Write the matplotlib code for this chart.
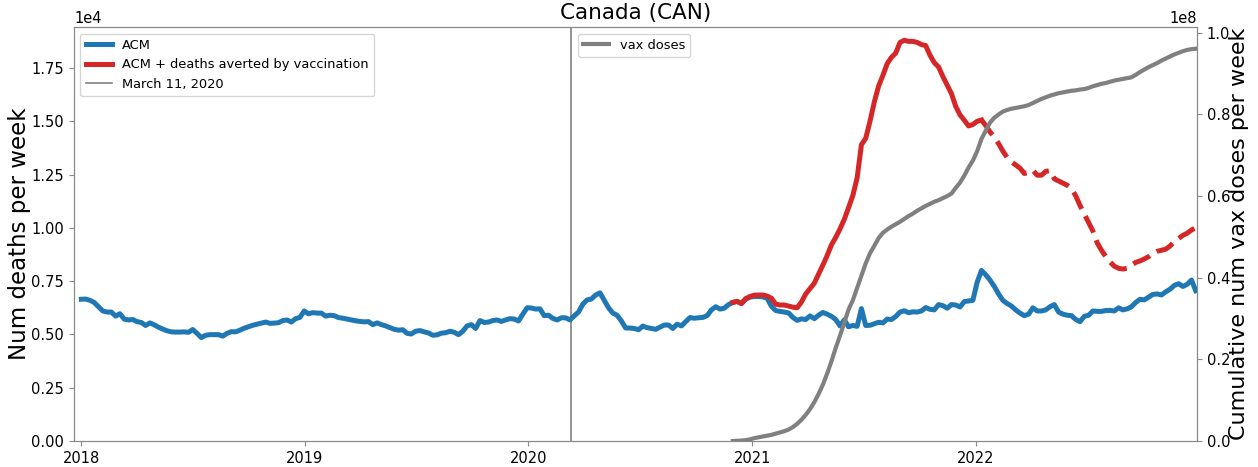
#Weekly all-cause mortality vs vaccine doses, Canada
import matplotlib
matplotlib.use("Agg")
import matplotlib.pyplot as plt
import matplotlib.dates as mdates
import numpy as np
import pandas as pd

# weekly dates (week starting Monday), 2018-01-01 .. 2022-12-26
weeks = pd.date_range("2018-01-01", periods=261, freq="7D")

# all cause mortality, deaths per week
acm = [
    6650, 6660, 6600, 6500, 6300, 6100, 6050, 6050, 5860, 5970,
    5720, 5680, 5700, 5600, 5560, 5420, 5540, 5450, 5340, 5250,
    5170, 5120, 5110, 5110, 5120, 5100, 5230, 5050, 4850, 4960,
    4990, 4990, 4990, 4920, 5050, 5130, 5120, 5200, 5290, 5360,
    5430, 5480, 5530, 5580, 5520, 5530, 5550, 5650, 5680, 5580,
    5740, 5800, 6100, 5970, 6020, 6000,
    6000, 5860, 5900, 5880, 5790, 5760, 5720, 5680, 5640, 5610,
    5590, 5600, 5460, 5540, 5460, 5400, 5320, 5240, 5200, 5220,
    5050, 5020, 5150, 5180, 5120, 5070, 4960, 4980, 5060, 5080,
    5150, 5100, 4990, 5150, 5400, 5460, 5280, 5650, 5560, 5580,
    5650, 5680, 5610, 5680, 5740, 5720, 5630, 5950, 6250, 6240,
    6190, 6200, 5880, 5900, 5750, 5680, 5780, 5780, 5680, 5870,
    6050, 6420, 6620, 6660, 6850, 6950, 6600, 6250, 6000, 5900,
    5630, 5300, 5300, 5280, 5220, 5390, 5320, 5280, 5240, 5340,
    5440, 5440, 5280, 5480, 5400, 5600, 5790, 5760, 5780, 5800,
    5880, 6150, 6300, 6190, 6230, 6400, 6500, 6550, 6450, 6650,
    6750, 6780, 6780, 6760, 6700, 6320, 6120, 6080, 6050, 6010,
    5800, 5660, 5730, 5700, 5870, 5740, 5900, 6030, 5950,
    5850, 5700, 5400, 5680, 5360, 5420, 5380, 6210, 5420, 5430,
    5500, 5570, 5540, 5720, 5700, 5840, 6050, 6110, 6020, 6060,
    6050, 6100, 6260, 6180, 6150, 6400, 6350, 6230, 6400, 6380,
    6290, 6540, 6570, 6600, 7450, 8000, 7800, 7550, 7250, 6900,
    6600, 6450, 6330, 6150, 6000, 5880, 5950, 6250, 6100, 6100,
    6150, 6300, 6400, 6050, 5950, 5900, 5880, 5700,
    5600, 5850, 5900, 6100, 6080, 6080, 6120, 6130, 6100, 6250,
    6150, 6200, 6300, 6500, 6650, 6620, 6750, 6880, 6900, 6850,
    7000, 7120, 7300, 7380, 7250, 7350, 7550, 7050,
]

# ACM + deaths averted by vaccination, from week 152 (2020-11-30)
averted_start = 152
acm_averted = [
    6500, 6550, 6450, 6680, 6780, 6840, 6850, 6850, 6800, 6700,
    6420, 6380, 6380, 6330, 6280, 6250, 6520, 6900, 7150, 7400,
    7830, 8250, 8700, 9200, 9550, 9950, 10400, 10950, 11520, 12350,
    13900, 14200, 15000, 15900, 16650, 17150, 17700, 18000, 18200, 18700,
    18800, 18750, 18750, 18700, 18600, 18550, 18100, 17750, 17550, 17100,
    16700, 16300, 15700, 15300, 15050, 14780, 14850, 15000, 15060, 14800,
    14500, 14250, 13950, 13600, 13300, 13100, 12950, 12800, 12550, 12600,
    12700, 12470, 12470, 12650, 12680, 12300, 12200, 12100, 12000, 11850,
    11500, 11050, 10650, 10250, 9850, 9300, 8950, 8650, 8400, 8200,
    8100, 8070, 8100, 8250, 8380, 8450, 8540, 8650, 8800, 8900,
    8950, 9000, 9150, 9350, 9500, 9650, 9750, 9900, 10000,
]
# solid up to this week, dashed after
solid_end = 210

# cumulative vax doses (x 1e8), from week 152
vax_doses_1e8 = [
    0.000, 0.0005, 0.001, 0.002, 0.004, 0.007, 0.009, 0.011, 0.013, 0.015,
    0.018, 0.021, 0.024, 0.028, 0.034, 0.042, 0.052, 0.064, 0.078, 0.095,
    0.115, 0.138, 0.165, 0.195, 0.228, 0.258, 0.290, 0.322, 0.345, 0.375,
    0.405, 0.435, 0.460, 0.478, 0.497, 0.510, 0.518, 0.525, 0.531, 0.537,
    0.544, 0.551, 0.557, 0.564, 0.570, 0.576, 0.581, 0.586, 0.590, 0.595,
    0.600, 0.606, 0.620, 0.633, 0.650, 0.670, 0.687, 0.710, 0.740, 0.760,
    0.780, 0.792, 0.800, 0.807, 0.811, 0.814, 0.816, 0.818, 0.820, 0.823,
    0.828, 0.833, 0.838, 0.842, 0.846, 0.849, 0.852, 0.854, 0.856, 0.858,
    0.859, 0.861, 0.862, 0.865, 0.869, 0.872, 0.875, 0.877, 0.880, 0.883,
    0.885, 0.887, 0.889, 0.891, 0.897, 0.904, 0.910, 0.916, 0.921, 0.926,
    0.932, 0.937, 0.942, 0.947, 0.951, 0.955, 0.958, 0.960, 0.961,
]

pandemic_date = pd.Timestamp("2020-03-11")

spine_col = "#8a8a8a"

fig = plt.figure(figsize=(12.58, 4.67), dpi=100)
ax = fig.add_subplot(111)
fig.subplots_adjust(left=0.0588, right=0.9515, bottom=0.0557, top=0.942)

# deaths
ax.plot(weeks, acm, color="tab:blue", lw=3.6, label="ACM", zorder=3)
av_weeks = weeks[averted_start:]
av = np.array(acm_averted)
n_solid = solid_end - averted_start + 1
ax.plot(av_weeks[:n_solid], av[:n_solid], color="tab:red", lw=3.6,
        label="ACM + deaths averted by vaccination", zorder=4)
ax.plot(av_weeks[n_solid - 1:], av[n_solid - 1:], color="tab:red", lw=3.6,
        ls="--", zorder=4)
ax.axvline(pandemic_date, color="grey", lw=1.2, label="March 11, 2020")

ax.set_ylim(0, 19420)
ax.set_xlim(pd.Timestamp("2017-12-20"), pd.Timestamp("2022-12-28"))
ax.ticklabel_format(axis="y", style="sci", scilimits=(0, 0))
ax.set_ylabel("Num deaths per week", fontsize=16.5, labelpad=0)
ax.set_title("Canada (CAN)", fontsize=15.5)
ax.xaxis.set_major_locator(mdates.YearLocator())
ax.xaxis.set_major_formatter(mdates.DateFormatter("%Y"))
ax.legend(loc="upper left", fontsize=9.4)

# vax doses on second axis
ax2 = ax.twinx()
ax2.plot(av_weeks, np.array(vax_doses_1e8) * 1e8, color="grey", lw=3,
         label="vax doses")
ax2.set_ylim(0, 1.014e8)
ax2.set_ylabel("Cumulative num vax doses per week", fontsize=16, labelpad=-1)
ax2.legend(loc="upper left", bbox_to_anchor=(0.443, 1.0), fontsize=9.4)

for a in (ax, ax2):
    for s in a.spines.values():
        s.set_color(spine_col)
    a.tick_params(labelsize=10.5, color=spine_col)
    a.yaxis.get_offset_text().set_fontsize(10.5)

fig.savefig("out.png", dpi=100)
